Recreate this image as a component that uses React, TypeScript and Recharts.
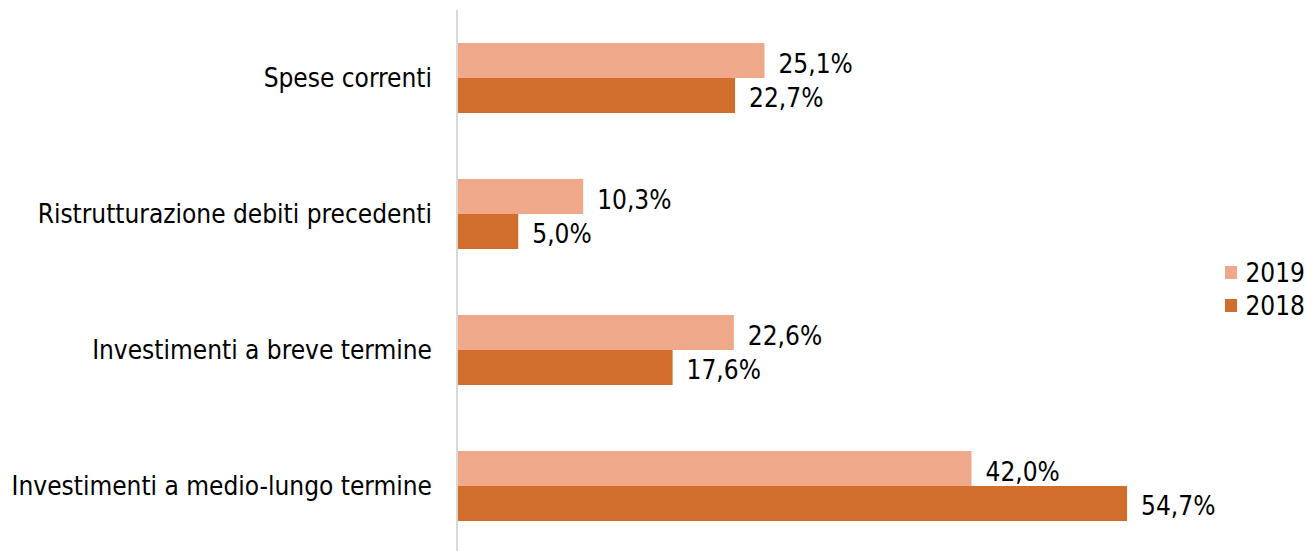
import { BarChart, Bar, XAxis, YAxis, LabelList, Legend } from "recharts";

const categories = [
  "Spese correnti",
  "Ristrutturazione debiti precedenti",
  "Investimenti a breve termine",
  "Investimenti a medio-lungo termine",
];
const values2019 = [25.1, 10.3, 22.6, 42.0];
const values2018 = [22.7, 5.0, 17.6, 54.7];
const seriesNames = ["2019", "2018"];

const COLOR_2019 = "#F0A88A";
const COLOR_2018 = "#D26E2B";
const FONT = "'DejaVu Sans Condensed', 'DejaVu Sans', sans-serif";

const data = categories.map((name, i) => ({
  name,
  y2019: values2019[i],
  y2018: values2018[i],
}));

const fmt = (v: any) => Number(v).toFixed(1).replace(".", ",") + "%";

function LegendBox() {
  const colors = [COLOR_2019, COLOR_2018];
  return (
    <div style={{ fontFamily: FONT, fontSize: 26, color: "#000" }}>
      {seriesNames.map((s, i) => (
        <div key={s} style={{ display: "flex", alignItems: "center", height: 33 }}>
          <span
            style={{
              width: 13,
              height: 13,
              background: colors[i],
              display: "inline-block",
              marginRight: 8,
            }}
          />
          <span>{s}</span>
        </div>
      ))}
    </div>
  );
}

export default function App() {
  return (
    <div
      style={{
        position: "fixed",
        left: 0,
        top: 0,
        width: 1306,
        height: 551,
        overflow: "hidden",
        background: "#fff",
      }}
    >
      <BarChart
        width={1306}
        height={556}
        data={data}
        layout="vertical"
        margin={{ top: 10, right: 34, bottom: 2, left: 0 }}
        barGap={0}
        barSize={35}
      >
        <XAxis type="number" domain={[0, 60]} hide />
        <YAxis
          type="category"
          dataKey="name"
          width={457}
          tickLine={false}
          tickSize={0}
          tickMargin={25}
          axisLine={{ stroke: "#D9D9D9", strokeWidth: 2 }}
          tick={{ fill: "#000", fontSize: 26, fontFamily: FONT }}
        />
        <Legend
          layout="vertical"
          align="right"
          verticalAlign="top"
          wrapperStyle={{ left: 1225, top: 256, width: 80 }}
          content={<LegendBox />}
        />
        <Bar dataKey="y2019" name="2019" fill={COLOR_2019} isAnimationActive={false}>
          <LabelList
            dataKey="y2019"
            position="right"
            offset={14}
            dy={3}
            formatter={fmt}
            style={{ fill: "#000", fontSize: 26, fontFamily: FONT }}
          />
        </Bar>
        <Bar dataKey="y2018" name="2018" fill={COLOR_2018} isAnimationActive={false}>
          <LabelList
            dataKey="y2018"
            position="right"
            offset={14}
            dy={2}
            formatter={fmt}
            style={{ fill: "#000", fontSize: 26, fontFamily: FONT }}
          />
        </Bar>
      </BarChart>
    </div>
  );
}
